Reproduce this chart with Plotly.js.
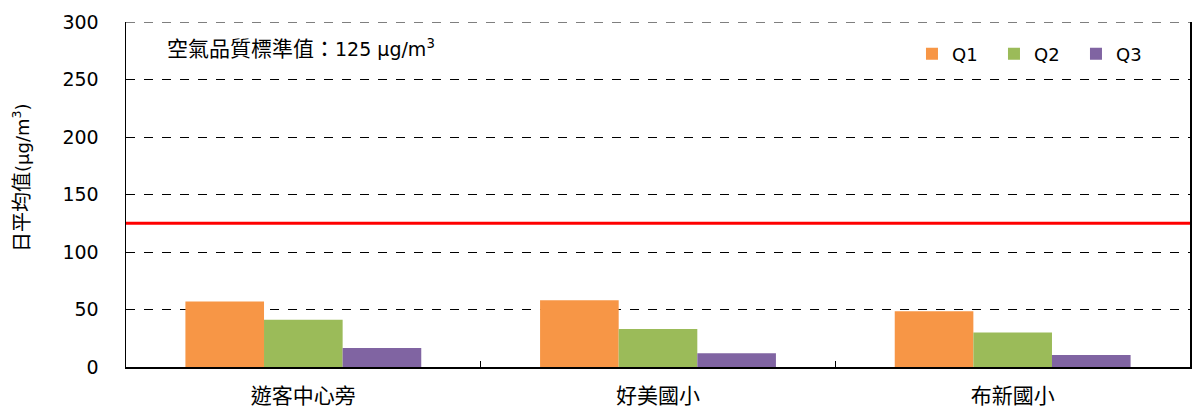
<!DOCTYPE html>
<html>
<head>
<meta charset="utf-8">
<script src="https://cdn.plot.ly/plotly-3.0.1.min.js"></script>
<style>html,body{margin:0;padding:0;background:#fff;}#chart{width:1192px;height:410px;}</style>
</head>
<body>
<div id="chart"></div>
<script>
const categories = ['遊客中心旁', '好美國小', '布新國小'];
const seriesNames = ['Q1', 'Q2', 'Q3'];
const q1 = [57, 58, 48.5];
const q2 = [41, 33, 30];
const q3 = [16.5, 12, 10.5];
const standardValue = 125;
const yTicks = [0, 50, 100, 150, 200, 250, 300];
const colors = ['#F79646', '#9BBB59', '#8064A2'];

const latin = '"DejaVu Sans", "Noto Sans CJK TC", sans-serif';
const cjk = '"Noto Sans CJK TC", "DejaVu Sans", sans-serif';
const values = [q1, q2, q3];
const traces = seriesNames.map((n, i) => ({
  type: 'bar', name: n, x: categories, y: values[i],
  marker: {color: colors[i], line: {width: 0}}, hoverinfo: 'none'
}));

const cj = (t, s) => '<span style="font-family:\'Noto Sans CJK TC\';font-size:' + s + 'px">' + t + '</span>';

const layout = {
  width: 1192, height: 410,
  margin: {l: 126, r: 2, t: 22, b: 43, autoexpand: false},
  paper_bgcolor: '#fff', plot_bgcolor: '#fff',
  font: {family: latin, color: '#000', size: 18},
  barmode: 'group', bargap: 0.335, bargroupgap: 0,
  showlegend: true,
  legend: {orientation: 'h', x: 0.7387, xanchor: 'left', y: 0.961, yanchor: 'top',
    font: {family: latin, size: 18, color: '#000'}, entrywidth: 37, entrywidthmode: 'pixels',
    itemwidth: 30, bgcolor: 'rgba(0,0,0,0)'},
  xaxis: {type: 'category', showline: true, linecolor: '#000', linewidth: 2,
    ticks: 'inside', tickson: 'boundaries', ticklen: 6, tickcolor: '#000', tickwidth: 1.5,
    showgrid: false, zeroline: false, ticklabelstandoff: 9,
    tickfont: {family: cjk, size: 21, color: '#000'}},
  yaxis: {range: [0, 300], tickvals: yTicks, ticktext: yTicks.map(String),
    showline: true, linecolor: '#000', linewidth: 1.5, mirror: true,
    ticks: '', showgrid: true, gridcolor: '#000', gridwidth: 1, griddash: 'dash',
    zeroline: false, ticklabelstandoff: 22,
    tickfont: {family: latin, size: 19, color: '#000'}},
  shapes: [
    {type: 'line', xref: 'paper', yref: 'y', x0: 0, x1: 1, y0: standardValue, y1: standardValue,
     line: {color: '#FF0000', width: 3}},
    {type: 'line', xref: 'paper', yref: 'y', x0: 0, x1: 1, y0: 300, y1: 300,
     line: {color: '#000', width: 1, dash: 'dash'}}
  ],
  annotations: [
    {xref: 'paper', yref: 'paper', x: (165 - 126) / 1064, y: (367 - 47) / 345, xanchor: 'left', yanchor: 'middle',
     showarrow: false, text: cj('空氣品質標準值：', 21) + '125 μg/m<sup>3</sup>',
     font: {family: latin, size: 19, color: '#000'}},
    {xref: 'paper', yref: 'paper', x: (20 - 126) / 1064, y: (367 - 178) / 345, xanchor: 'center', yanchor: 'middle',
     showarrow: false, textangle: -90, text: cj('日平均值', 20) + '(μg/m<sup>3</sup>)',
     font: {family: latin, size: 18, color: '#000'}}
  ]
};
Plotly.newPlot('chart', traces, layout, {displayModeBar: false, staticPlot: true});
</script>
</body>
</html>
